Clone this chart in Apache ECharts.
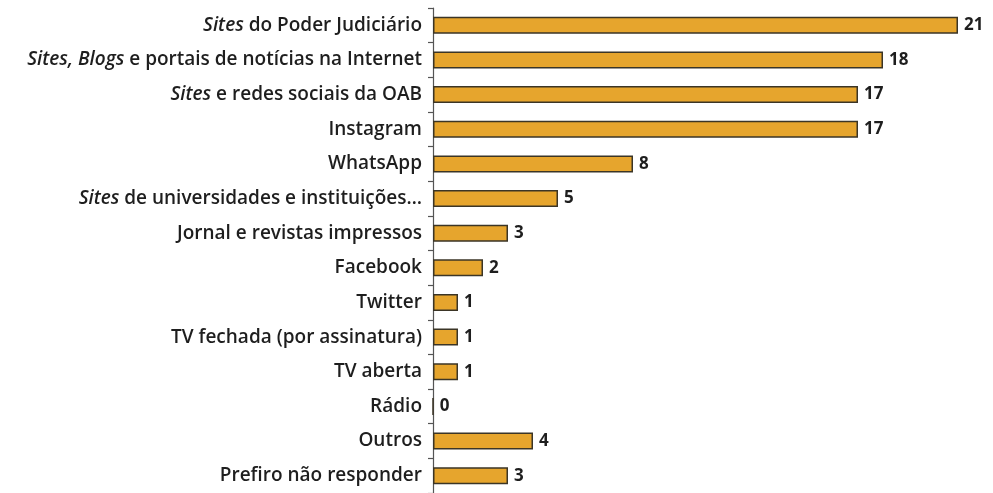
<!DOCTYPE html>
<html>
<head>
<meta charset="utf-8">
<script src="https://cdn.jsdelivr.net/npm/echarts@6/dist/echarts.min.js"></script>
<style>
  html, body { margin: 0; padding: 0; background: #fff; }
  #root1 { width: 993px; height: 493px; }
</style>
</head>
<body>
<div id="root1"></div>
<script>
// labels: italic prefix (may be empty) + regular rest
const italicParts = ['Sites', 'Sites, Blogs', 'Sites', '', '', 'Sites', '', '', '', '', '', '', '', ''];
const restParts = [
  ' do Poder Judiciário',
  ' e portais de notícias na Internet',
  ' e redes sociais da OAB',
  'Instagram',
  'WhatsApp',
  ' de universidades e instituições…',
  'Jornal e revistas impressos',
  'Facebook',
  'Twitter',
  'TV fechada (por assinatura)',
  'TV aberta',
  'Rádio',
  'Outros',
  'Prefiro não responder'
];
const values = [21, 18, 17, 17, 8, 5, 3, 2, 1, 1, 1, 0, 4, 3];

const categories = restParts.map((r, i) => String(i));

const chartDom = document.getElementById('root1');
const myChart = echarts.init(chartDom);

const labelFont = '"Open Sans", "Noto Sans", sans-serif';

const option = {
  animation: false,
  grid: {
    left: 433,
    right: 35,
    top: 8,
    bottom: -3
  },
  xAxis: {
    type: 'value',
    min: 0,
    max: 21,
    show: false
  },
  yAxis: {
    type: 'category',
    inverse: true,
    data: categories,
    axisLine: { show: true, lineStyle: { color: '#555', width: 1.2 } },
    axisTick: { show: true, length: 5, lineStyle: { color: '#555', width: 1.2 } },
    axisLabel: {
      margin: 11,
      formatter: function (v) {
        const i = Number(v);
        return italicParts[i] ? '{i|' + italicParts[i] + '}{r|' + restParts[i] + '}' : '{r|' + restParts[i] + '}';
      },
      rich: {
        i: { fontFamily: labelFont, fontStyle: 'italic', fontWeight: 600, fontSize: 19, color: '#1e1e1e' },
        r: { fontFamily: labelFont, fontWeight: 600, fontSize: 19, color: '#1e1e1e' }
      }
    }
  },
  series: [
    {
      type: 'bar',
      data: values,
      barWidth: 17,
      itemStyle: {
        color: '#E6A52D',
        borderColor: '#3b3526',
        borderWidth: 1.5
      },
      label: {
        show: true,
        position: 'right',
        distance: 6,
        fontFamily: labelFont,
        fontWeight: 'bold',
        fontSize: 17,
        color: '#1e1e1e'
      }
    }
  ]
};

myChart.setOption(option);
</script>
</body>
</html>
